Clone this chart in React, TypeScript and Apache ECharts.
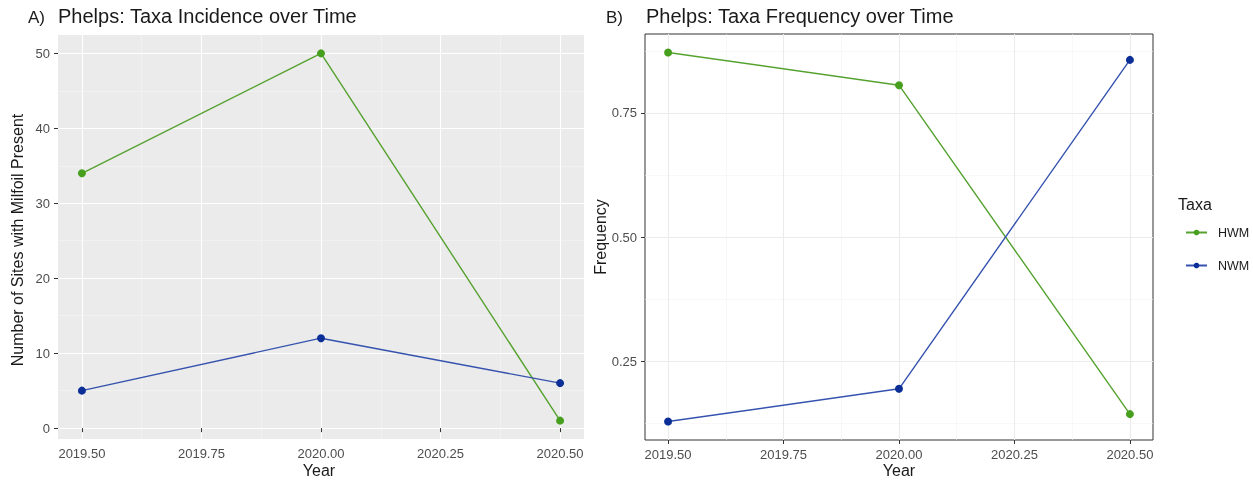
import React, { useEffect, useRef } from "react";
import * as echarts from "echarts";

const years = [2019.5, 2020.0, 2020.5];
const hwmCount = [34, 50, 1];
const nwmCount = [5, 12, 6];
const hwmFreq = [0.872, 0.806, 0.143];
const nwmFreq = [0.128, 0.194, 0.857];
const xMajor = [2019.5, 2019.75, 2020.0, 2020.25, 2020.5];
const xMinor = [2019.625, 2019.875, 2020.125, 2020.375];
const yMajorA = [0, 10, 20, 30, 40, 50];
const yMinorA = [5, 15, 25, 35, 45];
const yMajorB = [0.25, 0.5, 0.75];
const yMinorB = [0.125, 0.375, 0.625, 0.875];

const FONT = "'Liberation Sans', Arial, sans-serif";
const GREEN_LINE = "#55A22F";
const GREEN_PT = "#46A01E";
const BLUE_LINE = "#3552AE";
const BLUE_PT = "#0B2E97";

export default function App() {
  const ref = useRef<HTMLDivElement>(null);
  useEffect(() => {
    if (!ref.current) return;
    const chart = echarts.init(ref.current, null, { renderer: "svg" });
    const pair = (vals: number[]) => years.map((y, i) => [y, vals[i]]);
    const tickLabel = { color: "#4D4D4D", fontSize: 13, fontFamily: FONT };

    const majorX = (gridIndex: number, splitColor: string, splitWidth: number) => ({
      type: "value",
      gridIndex,
      min: 2019.45,
      max: 2020.55,
      position: "bottom",
      axisLine: { show: false },
      axisTick: { show: true, customValues: xMajor, length: 4, lineStyle: { color: "#333333" } },
      axisLabel: { ...tickLabel, customValues: xMajor, margin: 8, formatter: (v: number) => v.toFixed(2) },
      splitLine: { show: true, lineStyle: { color: splitColor, width: splitWidth } },
    });
    const minorX = (gridIndex: number, splitColor: string, splitWidth: number) => ({
      type: "value",
      gridIndex,
      min: 2019.45,
      max: 2020.55,
      position: "top",
      axisLine: { show: false },
      axisTick: { show: false, customValues: xMinor },
      axisLabel: { show: false, customValues: xMinor },
      splitLine: { show: true, lineStyle: { color: splitColor, width: splitWidth } },
    });
    const majorY = (gridIndex: number, min: number, max: number, vals: number[], splitColor: string, splitWidth: number, fmt: (v: number) => string) => ({
      type: "value",
      gridIndex,
      min,
      max,
      position: "left",
      axisLine: { show: false },
      axisTick: { show: true, customValues: vals, length: 4, lineStyle: { color: "#333333" } },
      axisLabel: { ...tickLabel, customValues: vals, margin: 8, formatter: fmt },
      splitLine: { show: true, lineStyle: { color: splitColor, width: splitWidth } },
    });
    const minorY = (gridIndex: number, min: number, max: number, vals: number[], splitColor: string, splitWidth: number) => ({
      type: "value",
      gridIndex,
      min,
      max,
      position: "right",
      axisLine: { show: false },
      axisTick: { show: false, customValues: vals },
      axisLabel: { show: false, customValues: vals },
      splitLine: { show: true, lineStyle: { color: splitColor, width: splitWidth } },
    });

    const series = (name: string, data: number[][], xi: number, yi: number, lc: string, pc: string) => ({
      name,
      type: "line",
      xAxisIndex: xi,
      yAxisIndex: yi,
      data,
      symbol: "circle",
      symbolSize: 8,
      showSymbol: true,
      lineStyle: { color: lc, width: 1.4 },
      itemStyle: { color: pc },
      z: 5,
    });

    const txt = { fill: "#1A1A1A", fontFamily: FONT };

    chart.setOption({
      animation: false,
      grid: [
        { left: 58, top: 35, width: 526, height: 404, show: true, backgroundColor: "#EBEBEB", borderWidth: 0 },
        { left: 645, top: 34, width: 508, height: 406, show: true, backgroundColor: "#FFFFFF", borderColor: "#333333", borderWidth: 1 },
      ],
      xAxis: [
        majorX(0, "#FFFFFF", 1.1),
        minorX(0, "#F5F5F5", 0.6),
        majorX(1, "#EBEBEB", 1.1),
        minorX(1, "#F3F3F3", 0.6),
      ],
      yAxis: [
        majorY(0, -1.45, 52.45, yMajorA, "#FFFFFF", 1.1, (v) => String(v)),
        minorY(0, -1.45, 52.45, yMinorA, "#F5F5F5", 0.6),
        majorY(1, 0.0908, 0.9092, yMajorB, "#EBEBEB", 1.1, (v) => v.toFixed(2)),
        minorY(1, 0.0908, 0.9092, yMinorB, "#F3F3F3", 0.6),
      ],
      legend: {
        data: ["HWM", "NWM"],
        orient: "vertical",
        left: 1180,
        top: 221,
        itemWidth: 21,
        itemHeight: 7,
        itemGap: 20,
        textStyle: { color: "#1A1A1A", fontSize: 12.5, fontFamily: FONT, padding: [0, 0, 0, 6] },
      },
      graphic: [
        { type: "text", x: 28, y: 17, style: { ...txt, text: "A)", fontSize: 17, verticalAlign: "middle" } },
        { type: "text", x: 58, y: 16, style: { ...txt, text: "Phelps: Taxa Incidence over Time", fontSize: 20, verticalAlign: "middle" } },
        { type: "text", x: 606, y: 17, style: { ...txt, text: "B)", fontSize: 17, verticalAlign: "middle" } },
        { type: "text", x: 646, y: 16, style: { ...txt, text: "Phelps: Taxa Frequency over Time", fontSize: 20, verticalAlign: "middle" } },
        { type: "text", x: 319, y: 470, style: { ...txt, text: "Year", fontSize: 16, align: "center", verticalAlign: "middle" } },
        { type: "text", x: 899, y: 470, style: { ...txt, text: "Year", fontSize: 16, align: "center", verticalAlign: "middle" } },
        { type: "text", x: 17, y: 240, rotation: Math.PI / 2, style: { ...txt, text: "Number of Sites with Milfoil Present", fontSize: 16, align: "center", verticalAlign: "middle" } },
        { type: "text", x: 600, y: 237, rotation: Math.PI / 2, style: { ...txt, text: "Frequency", fontSize: 16, align: "center", verticalAlign: "middle" } },
        { type: "text", x: 1178, y: 204, style: { ...txt, text: "Taxa", fontSize: 16, align: "left", verticalAlign: "middle" } },
      ],
      series: [
        series("HWM", pair(hwmCount), 0, 0, GREEN_LINE, GREEN_PT),
        series("NWM", pair(nwmCount), 0, 0, BLUE_LINE, BLUE_PT),
        series("HWM", pair(hwmFreq), 2, 2, GREEN_LINE, GREEN_PT),
        series("NWM", pair(nwmFreq), 2, 2, BLUE_LINE, BLUE_PT),
      ],
    });
    return () => chart.dispose();
  }, []);
  return <div ref={ref} style={{ position: "fixed", left: 0, top: 0, width: 1253, height: 480 }} />;
}
